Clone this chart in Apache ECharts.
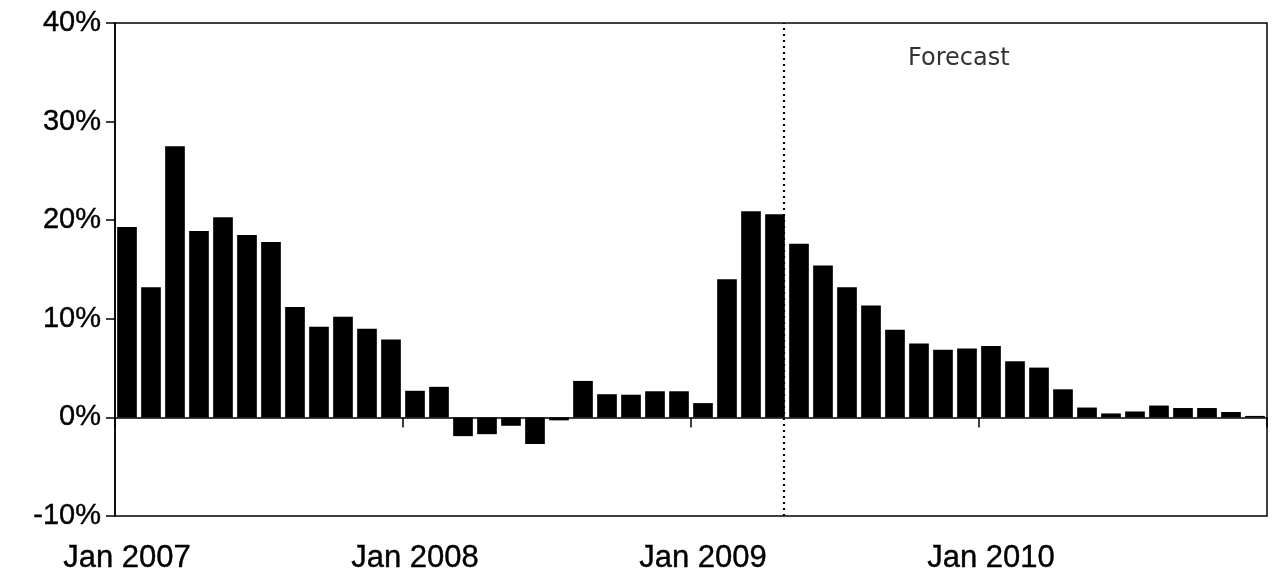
<!DOCTYPE html>
<html>
<head>
<meta charset="utf-8">
<script src="https://cdn.jsdelivr.net/npm/echarts@6/dist/echarts.min.js"></script>
<style>
html,body{margin:0;padding:0;background:#fff;}
#chart{width:1273px;height:584px;}
</style>
</head>
<body>
<div id="chart"></div>
<script>
// Months Jan 2007 .. Dec 2010
const months = [];
const monthNames = ['Jan','Feb','Mar','Apr','May','Jun','Jul','Aug','Sep','Oct','Nov','Dec'];
const years = [2007, 2008, 2009, 2010];
years.forEach(y => monthNames.forEach(m => months.push(m + ' ' + y)));

// Year-over-year change (%)
const values2007 = [19.3, 13.2, 27.5, 18.9, 20.3, 18.5, 17.8, 11.2, 9.2, 10.2, 9.0, 7.9];
const values2008 = [2.7, 3.1, -1.9, -1.7, -0.85, -2.7, -0.3, 3.7, 2.35, 2.3, 2.65, 2.65];
const values2009 = [1.45, 14.0, 20.9, 20.6, 17.6, 15.4, 13.2, 11.35, 8.9, 7.5, 6.85, 7.0];
const values2010 = [7.25, 5.7, 5.05, 2.85, 1.0, 0.4, 0.6, 1.2, 0.95, 0.95, 0.55, 0.15];
const values = [].concat(values2007, values2008, values2009, values2010);

const yTicks = { min: -10, max: 40, interval: 10 };
const forecastStart = 27.85; // position (in months from Jan 2007) of the forecast divider
const forecastLabel = 'Forecast';

const chart = echarts.init(document.getElementById('chart'), null, { renderer: 'canvas' });
const fontFamily = 'Liberation Sans, Arial, sans-serif';

chart.setOption({
  animation: false,
  backgroundColor: '#fff',
  grid: {
    left: 115, right: 6, top: 23, bottom: 68,
    show: true, borderColor: '#000', borderWidth: 1.5, backgroundColor: 'transparent'
  },
  xAxis: [
    {
      type: 'category',
      data: months,
      boundaryGap: true,
      axisLine: { onZero: true, lineStyle: { color: '#000', width: 1.5 } },
      axisTick: { show: true, interval: 11, length: 10, inside: false, lineStyle: { color: '#000', width: 1.5 } },
      axisLabel: { show: false },
      splitLine: { show: false }
    },
    {
      type: 'category',
      data: months,
      position: 'bottom',
      boundaryGap: true,
      axisLine: { show: false, onZero: false },
      axisTick: { show: false },
      axisLabel: {
        interval: 11, margin: 27,
        fontFamily: fontFamily, fontSize: 31, color: '#000',
        textBorderColor: '#000', textBorderWidth: 0.4
      },
      splitLine: { show: false }
    },
    {
      type: 'value',
      min: 0, max: months.length,
      show: false
    }
  ],
  yAxis: {
    type: 'value',
    min: yTicks.min, max: yTicks.max, interval: yTicks.interval,
    axisLine: { show: true, lineStyle: { color: '#000', width: 1.5 } },
    axisTick: { show: true, length: 9, lineStyle: { color: '#000', width: 1.5 } },
    axisLabel: {
      formatter: '{value}%', margin: 14, fontFamily: fontFamily, fontSize: 29, color: '#000',
      textBorderColor: '#000', textBorderWidth: 0.4
    },
    splitLine: { show: false }
  },
  series: [
    {
      type: 'bar',
      xAxisIndex: 0,
      data: values,
      barCategoryGap: '18%',
      itemStyle: { color: '#000' },
      silent: true
    },
    {
      type: 'line',
      xAxisIndex: 2,
      data: [],
      silent: true,
      markLine: {
        silent: true,
        symbol: 'none',
        label: { show: false },
        lineStyle: { type: [2, 4], color: '#000', width: 2.2 },
        data: [{ xAxis: forecastStart }]
      }
    }
  ],
  graphic: [
    {
      type: 'text',
      left: 908, top: 47,
      style: {
        text: forecastLabel,
        font: '24px "DejaVu Sans", sans-serif',
        fill: '#333'
      },
      silent: true
    }
  ]
});
</script>
</body>
</html>
